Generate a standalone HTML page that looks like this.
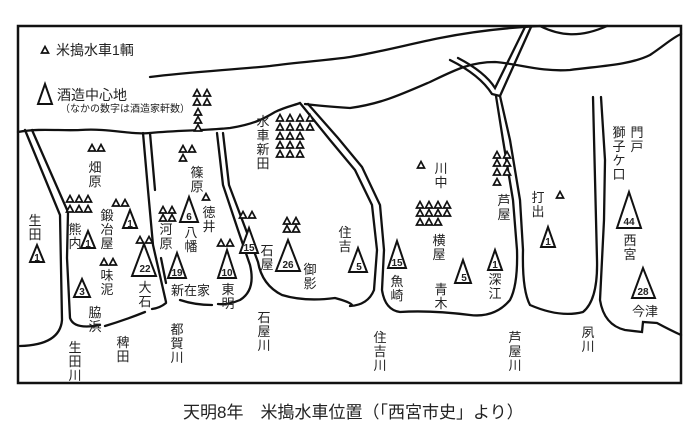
<!DOCTYPE html>
<html><head><meta charset="utf-8"><style>
html,body{margin:0;padding:0;background:#fff;}
svg{display:block}
text{font-family:"Liberation Sans","Noto Sans CJK JP",sans-serif;fill:#222;}
.v{font-size:13px}
.n{font-family:"Liberation Serif",serif;font-size:10px;font-weight:bold;text-anchor:middle}
</style></head><body>
<svg width="700" height="440" viewBox="0 0 700 440" xmlns="http://www.w3.org/2000/svg">
<defs>
<polygon id="s" points="-3.5,3 3.5,3 0,-3.5" fill="#fff" stroke="#111" stroke-width="1.7"/>
</defs>
<rect x="18" y="26" width="663" height="357" fill="none" stroke="#111" stroke-width="2.5"/>
<g fill="none" stroke="#111" stroke-width="2.3" stroke-linecap="round">
<!-- coast lines -->
<path d="M150,77 C190,72 230,70 270,66 C300,62 330,60 350,57 C380,52 410,44 440,38 C470,32 500,28 540,26 C560,36 580,38 607,26"/>
<path d="M305,104 C320,106 335,107 350,108 C380,104 400,95 430,82 C455,70 470,62 495,62 C520,64 540,72 570,70 C600,66 630,65 650,55 C665,45 672,38 681,34"/>
<path d="M18,132 C40,128 60,131 80,130 C110,128 130,135 150,133 C180,130 200,131 230,128 C255,124 265,118 275,112 C285,107 295,105 300,103"/>
<!-- river 1 -->
<path d="M25,130 L60,215 L62,320 Q60,345 20,346"/>
<path d="M32,130 L68,212 L67,258 L70,318 Q74,330 100,325"/>
<path d="M105,326 Q125,320 145,312 M152,309 Q160,308 166,303"/>
<!-- river 2 -->
<path d="M143,133 L148,190 L153,245 L166,302"/>
<path d="M150,133 L155,190"/>
<path d="M161,258 L166,283"/>
<!-- river 3 -->
<path d="M217,133 L223,185 L238,230 L250,265 Q256,290 240,300 Q228,305 218,304 M212,305 Q195,305 180,300"/>
<path d="M223,133 L229,185 L246,230 L258,262 Q262,285 282,295 Q305,302 335,298 Q350,302 352,305"/>
<!-- river 4 -->
<path d="M300,103 L330,140 L355,170 L372,205 L377,250 L374,290 Q368,305 350,306"/>
<path d="M308,104 L338,138 L362,167 L380,205 L384,250 L382,290 Q385,310 400,312 Q430,310 470,315 Q495,318 510,300 Q518,285 517,250 L513,200 L503,140 L496,96"/>
<!-- ashiya fork -->
<path d="M450,60 Q480,75 492,94 L500,96 L531,27"/>
<path d="M458,58 Q485,72 495,88 L525,27"/>
<path d="M500,96 L510,140 L520,200 L523,250 Q522,290 530,305 Q560,318 583,312 Q598,300 597,260 L593,97"/>
<!-- shukugawa -->
<path d="M601,97 L605,160 L604,220 L600,300 Q604,325 625,330 L642,332 L643,322 L657,323 Q670,330 681,335"/>
</g>
<!-- legend -->
<use href="#s" x="45" y="50"/>
<text x="56" y="55" font-size="14">米搗水車1輌</text>
<polygon points="45,84 38,104 52,104" fill="#fff" stroke="#111" stroke-width="2"/>
<text x="57" y="100" font-size="14">酒造中心地</text>
<text x="60" y="112" font-size="10">（なかの数字は酒造家軒数）</text>
<!-- small triangles -->
<g>
<use href="#s" x="197" y="93"/><use href="#s" x="207" y="93"/><use href="#s" x="197" y="102"/><use href="#s" x="207" y="102"/><use href="#s" x="198" y="112"/><use href="#s" x="198" y="120"/><use href="#s" x="198" y="128"/>
<use href="#s" x="280" y="118"/><use href="#s" x="290" y="118"/><use href="#s" x="300" y="118"/><use href="#s" x="310" y="118"/>
<use href="#s" x="280" y="127"/><use href="#s" x="290" y="127"/><use href="#s" x="300" y="127"/><use href="#s" x="310" y="127"/>
<use href="#s" x="280" y="136"/><use href="#s" x="290" y="136"/><use href="#s" x="300" y="136"/>
<use href="#s" x="280" y="145"/><use href="#s" x="290" y="145"/><use href="#s" x="300" y="145"/>
<use href="#s" x="280" y="154"/><use href="#s" x="290" y="154"/><use href="#s" x="300" y="154"/>
<use href="#s" x="92" y="148"/><use href="#s" x="101" y="148"/>
<use href="#s" x="183" y="149"/><use href="#s" x="192" y="149"/><use href="#s" x="183" y="158"/>
<use href="#s" x="206" y="197"/>
<use href="#s" x="70" y="199"/><use href="#s" x="79" y="199"/><use href="#s" x="88" y="199"/>
<use href="#s" x="70" y="209"/><use href="#s" x="79" y="209"/><use href="#s" x="88" y="209"/>
<use href="#s" x="116" y="203"/><use href="#s" x="125" y="203"/>
<use href="#s" x="163" y="210"/><use href="#s" x="172" y="210"/><use href="#s" x="163" y="218"/><use href="#s" x="172" y="218"/>
<use href="#s" x="243" y="215"/><use href="#s" x="252" y="215"/>
<use href="#s" x="287" y="221"/><use href="#s" x="296" y="221"/><use href="#s" x="287" y="229"/><use href="#s" x="296" y="229"/>
<use href="#s" x="140" y="240"/><use href="#s" x="149" y="240"/>
<use href="#s" x="104" y="262"/><use href="#s" x="113" y="262"/>
<use href="#s" x="221" y="243"/><use href="#s" x="230" y="243"/>
<use href="#s" x="421" y="165"/>
<use href="#s" x="497" y="155"/><use href="#s" x="507" y="155"/><use href="#s" x="497" y="163"/><use href="#s" x="507" y="163"/><use href="#s" x="497" y="172"/><use href="#s" x="507" y="172"/><use href="#s" x="497" y="182"/>
<use href="#s" x="420" y="205"/><use href="#s" x="429" y="205"/><use href="#s" x="438" y="205"/><use href="#s" x="447" y="205"/>
<use href="#s" x="420" y="213"/><use href="#s" x="429" y="213"/><use href="#s" x="438" y="213"/><use href="#s" x="447" y="213"/>
<use href="#s" x="420" y="222"/><use href="#s" x="429" y="222"/><use href="#s" x="438" y="222"/>
<use href="#s" x="560" y="195"/>
</g>
<!-- big triangles -->
<g fill="#fff" stroke="#111" stroke-width="2">
<polygon points="37,245 30,262 44,262"/>
<polygon points="88,231 81,248 95,248"/>
<polygon points="130,210 123,228 137,228"/>
<polygon points="82,279 74,297 90,297"/>
<polygon points="144,244 132,276 156,276"/>
<polygon points="189,197 180,222 198,222"/>
<polygon points="177,253 168,278 186,278"/>
<polygon points="227,250 218,278 236,278"/>
<polygon points="249,228 240,253 258,253"/>
<polygon points="288,240 276,271 300,271"/>
<polygon points="358,248 349,272 367,272"/>
<polygon points="397,241 388,268 406,268"/>
<polygon points="463,260 455,283 471,283"/>
<polygon points="495,250 488,270 502,270"/>
<polygon points="548,227 541,247 555,247"/>
<polygon points="629,192 617,228 641,228"/>
<polygon points="643,268 632,298 655,298"/>
</g>
<g class="n">
<text x="37" y="261">1</text><text x="88" y="247">1</text><text x="130" y="227">1</text><text x="82" y="295">3</text>
<text x="145" y="272">22</text><text x="189" y="220">6</text><text x="177" y="276">19</text><text x="227" y="276">10</text>
<text x="249" y="251">15</text><text x="288" y="268">26</text><text x="359" y="270">5</text><text x="397" y="266">15</text>
<text x="464" y="281">5</text><text x="495" y="268">1</text><text x="548" y="245">1</text><text x="629" y="225">44</text><text x="643" y="295">28</text>
</g>
<!-- vertical labels -->
<g class="v" text-anchor="middle">
<text x="263" y="126">水<tspan x="263" dy="14">車</tspan><tspan x="263" dy="14">新</tspan><tspan x="263" dy="14">田</tspan></text>
<text x="95" y="172">畑<tspan x="95" dy="14">原</tspan></text>
<text x="197" y="177">篠<tspan x="197" dy="14">原</tspan></text>
<text x="35" y="225">生<tspan x="35" dy="14">田</tspan></text>
<text x="75" y="234">熊<tspan x="75" dy="14">内</tspan></text>
<text x="107" y="220">鍛<tspan x="107" dy="14">冶</tspan><tspan x="107" dy="14">屋</tspan></text>
<text x="107" y="280">味<tspan x="107" dy="14">泥</tspan></text>
<text x="145" y="292">大<tspan x="145" dy="14">石</tspan></text>
<text x="95" y="317">脇<tspan x="95" dy="14">浜</tspan></text>
<text x="75" y="352">生<tspan x="75" dy="14">田</tspan><tspan x="75" dy="14">川</tspan></text>
<text x="123" y="347">稗<tspan x="123" dy="14">田</tspan></text>
<text x="177" y="334">都<tspan x="177" dy="14">賀</tspan><tspan x="177" dy="14">川</tspan></text>
<text x="166" y="234">河<tspan x="166" dy="14">原</tspan></text>
<text x="191" y="237">八<tspan x="191" dy="14">幡</tspan></text>
<text x="209" y="217">徳<tspan x="209" dy="14">井</tspan></text>
<text x="228" y="294">東<tspan x="228" dy="14">明</tspan></text>
<text x="267" y="255">石<tspan x="267" dy="14">屋</tspan></text>
<text x="310" y="274">御<tspan x="310" dy="14">影</tspan></text>
<text x="264" y="322">石<tspan x="264" dy="14">屋</tspan><tspan x="264" dy="14">川</tspan></text>
<text x="345" y="237">住<tspan x="345" dy="14">吉</tspan></text>
<text x="380" y="342">住<tspan x="380" dy="14">吉</tspan><tspan x="380" dy="14">川</tspan></text>
<text x="397" y="286">魚<tspan x="397" dy="14">崎</tspan></text>
<text x="441" y="173">川<tspan x="441" dy="14">中</tspan></text>
<text x="439" y="245">横<tspan x="439" dy="14">屋</tspan></text>
<text x="441" y="294">青<tspan x="441" dy="14">木</tspan></text>
<text x="495" y="284">深<tspan x="495" dy="14">江</tspan></text>
<text x="504" y="205">芦<tspan x="504" dy="14">屋</tspan></text>
<text x="538" y="202">打<tspan x="538" dy="14">出</tspan></text>
<text x="515" y="342">芦<tspan x="515" dy="14">屋</tspan><tspan x="515" dy="14">川</tspan></text>
<text x="588" y="337">夙<tspan x="588" dy="14">川</tspan></text>
<text x="619" y="137">獅<tspan x="619" dy="14">子</tspan><tspan x="619" dy="14">ケ</tspan><tspan x="619" dy="14">口</tspan></text>
<text x="637" y="137">門<tspan x="637" dy="14">戸</tspan></text>
<text x="630" y="245">西<tspan x="630" dy="14">宮</tspan></text>
</g>
<text x="171" y="295" font-size="13">新在家</text>
<text x="632" y="316" font-size="13">今津</text>
<text x="183" y="418" font-size="17">天明8年　米搗水車位置（「西宮市史」より）</text>
</svg>
</body></html>
